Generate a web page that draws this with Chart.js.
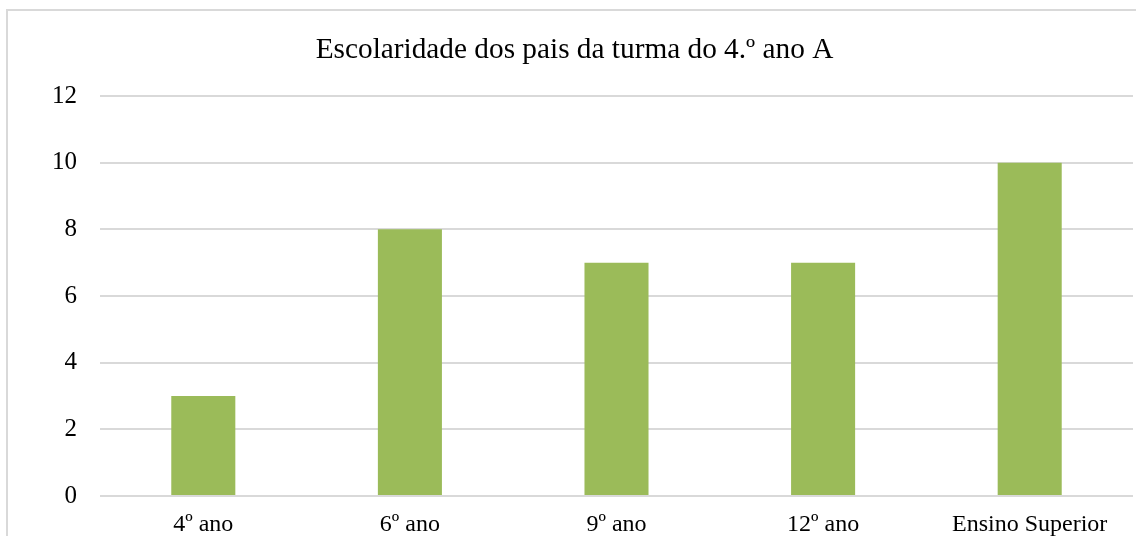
<!DOCTYPE html>
<html>
<head>
<meta charset="utf-8">
<script src="https://cdn.jsdelivr.net/npm/chart.js@4.4.0/dist/chart.umd.min.js"></script>
<style>
html,body{margin:0;padding:0;background:#fff;overflow:hidden;width:1136px;height:536px;}
#frame{position:absolute;left:6px;top:9px;width:1200px;height:700px;border:2px solid #d9d9d9;box-sizing:border-box;}
#wrap{position:absolute;left:0;top:0;width:1149px;height:536px;}
</style>
</head>
<body>
<div id="frame"></div>
<div id="wrap"><canvas id="c" width="1149" height="536"></canvas></div>
<script>
const chartTitle = "Escolaridade dos pais da turma do 4.º ano A";
const categories = ["4º ano", "6º ano", "9º ano", "12º ano", "Ensino Superior"];
const values = [3, 8, 7, 7, 10];
const yTicks = [0, 2, 4, 6, 8, 10, 12];

const serif = "'Liberation Serif', 'Times New Roman', serif";

new Chart(document.getElementById('c'), {
  type: 'bar',
  data: {
    labels: categories,
    datasets: [{
      data: values,
      backgroundColor: '#9BBB59',
      borderWidth: 0,
      barPercentage: 0.31,
      categoryPercentage: 1
    }]
  },
  options: {
    responsive: false,
    animation: false,
    devicePixelRatio: 1,
    layout: { padding: 0 },
    plugins: {
      legend: { display: false },
      tooltip: { enabled: false },
      title: {
        display: true,
        text: chartTitle,
        color: '#000',
        font: { family: serif, size: 29.3, weight: 'normal', lineHeight: 1.2 },
        padding: { top: 32.6, bottom: 28.2 }
      }
    },
    scales: {
      x: {
        grid: { display: false, drawTicks: false },
        border: { display: false },
        ticks: { color: '#000', font: { family: serif, size: 24 }, padding: 14, maxRotation: 0, autoSkip: false },
        afterFit: (s) => { s.height = 40; }
      },
      y: {
        min: 0, max: 12,
        afterBuildTicks: (s) => { s.ticks = yTicks.map(v => ({ value: v })); },
        grid: { color: '#d9d9d9', lineWidth: 2, drawTicks: false },
        border: { display: false },
        ticks: { color: '#000', font: { family: serif, size: 25 }, padding: 23 },
        afterFit: (s) => { s.width = 100; }
      },
      yR: {
        type: 'linear',
        position: 'right',
        display: true,
        grid: { display: false, drawTicks: false },
        border: { display: false },
        ticks: { display: false },
        afterFit: (s) => { s.width = 16; }
      }
    }
  }
});
</script>
</body>
</html>
